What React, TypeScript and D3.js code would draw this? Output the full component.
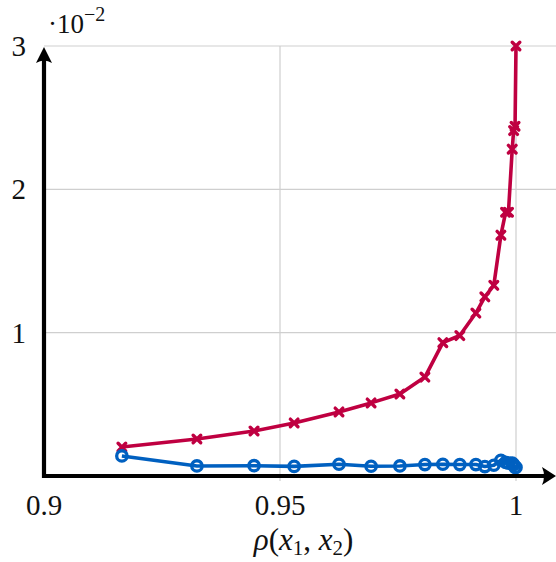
import React from "react";
import * as d3 from "d3";

const width = 556;
const height = 562;
const margin = { top: 46, right: 40, bottom: 86, left: 44 };

// correlation rho(x1, x2) on the x axis
const rho = [0.9165, 0.9324, 0.9445, 0.953, 0.9625, 0.9693, 0.9754, 0.9807, 0.9845, 0.9881,
  0.9915, 0.9934, 0.9953, 0.9968, 0.9978, 0.9984, 0.9992, 0.9995, 0.9998, 1.0];
const redSeries = [0.00202, 0.00258, 0.00314, 0.0037, 0.00447, 0.0051, 0.00572, 0.0069, 0.0093, 0.0098,
  0.01137, 0.0125, 0.0133, 0.0168, 0.0184, 0.0184, 0.0228, 0.0241, 0.0244, 0.03];
const blueSeries = [0.0014, 0.0007, 0.00072, 0.00067, 0.00082, 0.00068, 0.0007, 0.0008, 0.00082, 0.0008,
  0.0008, 0.00066, 0.00075, 0.0011, 0.00095, 0.0009, 0.0009, 0.0008, 0.0006, 0.0006];
const xTicks = [0.9, 0.95, 1];
const xTickLabels = ["0.9", "0.95", "1"];
const yTicks = [0.01, 0.02, 0.03];
const yTickLabels = ["1", "2", "3"];

const RED = "#bf0041";
const BLUE = "#0060c0";
const FONT = "'Liberation Serif', 'DejaVu Serif', serif";

export default function App() {
  const x = d3.scaleLinear().domain([0.9, 1]).range([margin.left, width - margin.right]);
  const y = d3.scaleLinear().domain([0, 0.03]).range([height - margin.bottom, margin.top]);
  const y0 = y(0);
  const x0 = x(0.9);

  const line = d3.line<number>()
    .x((_, i) => x(rho[i]))
    .y(d => y(d));

  return (
    <svg width={width} height={height} style={{ position: "absolute", left: 0, top: 0, background: "#fff" }}
      fontFamily={FONT}>
      {/* grid */}
      <g stroke="#cfcfcf" strokeWidth={1.2}>
        {yTicks.map(t => (
          <line key={t} x1={x0} x2={width} y1={y(t)} y2={y(t)} />
        ))}
        {xTicks.slice(1).map(t => (
          <line key={t} x1={x(t)} x2={x(t)} y1={margin.top} y2={y0 + 5} />
        ))}
      </g>

      {/* red series */}
      <path d={line(redSeries) ?? ""} fill="none" stroke={RED} strokeWidth={3.6} strokeLinejoin="round" />
      <g stroke={RED} strokeWidth={3.4} strokeLinecap="round">
        {redSeries.map((v, i) => {
          const cx = x(rho[i]);
          const cy = y(v);
          return (
            <path key={i} d={`M${cx - 3.8},${cy - 3.8}L${cx + 3.8},${cy + 3.8}M${cx - 3.8},${cy + 3.8}L${cx + 3.8},${cy - 3.8}`} />
          );
        })}
      </g>

      {/* blue series */}
      <path d={line(blueSeries) ?? ""} fill="none" stroke={BLUE} strokeWidth={3.6} strokeLinejoin="round" />
      <g stroke={BLUE} strokeWidth={3.3} fill="none">
        {blueSeries.map((v, i) => (
          <circle key={i} cx={x(rho[i])} cy={y(v)} r={5.2} />
        ))}
      </g>

      {/* axes with arrows */}
      <g stroke="#000" strokeWidth={4.2}>
        <line x1={x0 - 2} x2={width - 8} y1={y0} y2={y0} />
        <line x1={x0} x2={x0} y1={y0 + 2} y2={margin.top + 8} />
      </g>
      <path d={`M${width},${y0} L${width - 14},${y0 - 9} Q${width - 10},${y0} ${width - 14},${y0 + 9} Z`} fill="#000" />
      <path d={`M${x0},${margin.top + 1} L${x0 - 8},${margin.top + 17} Q${x0},${margin.top + 12} ${x0 + 8},${margin.top + 17} Z`} fill="#000" />

      {/* tick labels */}
      <g fontSize={29} fill="#111">
        {xTicks.map((t, i) => (
          <text key={t} x={x(t)} y={y0 + 39} textAnchor="middle">{xTickLabels[i]}</text>
        ))}
        {yTicks.map((t, i) => (
          <text key={t} x={x0 - 18} y={y(t) + 10} textAnchor="end">{yTickLabels[i]}</text>
        ))}
      </g>
      <text x={x0 + 4} y={33} fontSize={27} fill="#111">
        ·10<tspan dy={-12} fontSize={20}>−2</tspan>
      </text>

      {/* axis title */}
      <text x={x(0.955)} y={y0 + 74} fontSize={31} fill="#111" textAnchor="middle">
        <tspan fontStyle="italic">ρ</tspan>(<tspan fontStyle="italic">x</tspan>
        <tspan dy={5} fontSize={21}>1</tspan>
        <tspan dy={-5}>, </tspan>
        <tspan fontStyle="italic">x</tspan>
        <tspan dy={5} fontSize={21}>2</tspan>
        <tspan dy={-5}>)</tspan>
      </text>
    </svg>
  );
}
